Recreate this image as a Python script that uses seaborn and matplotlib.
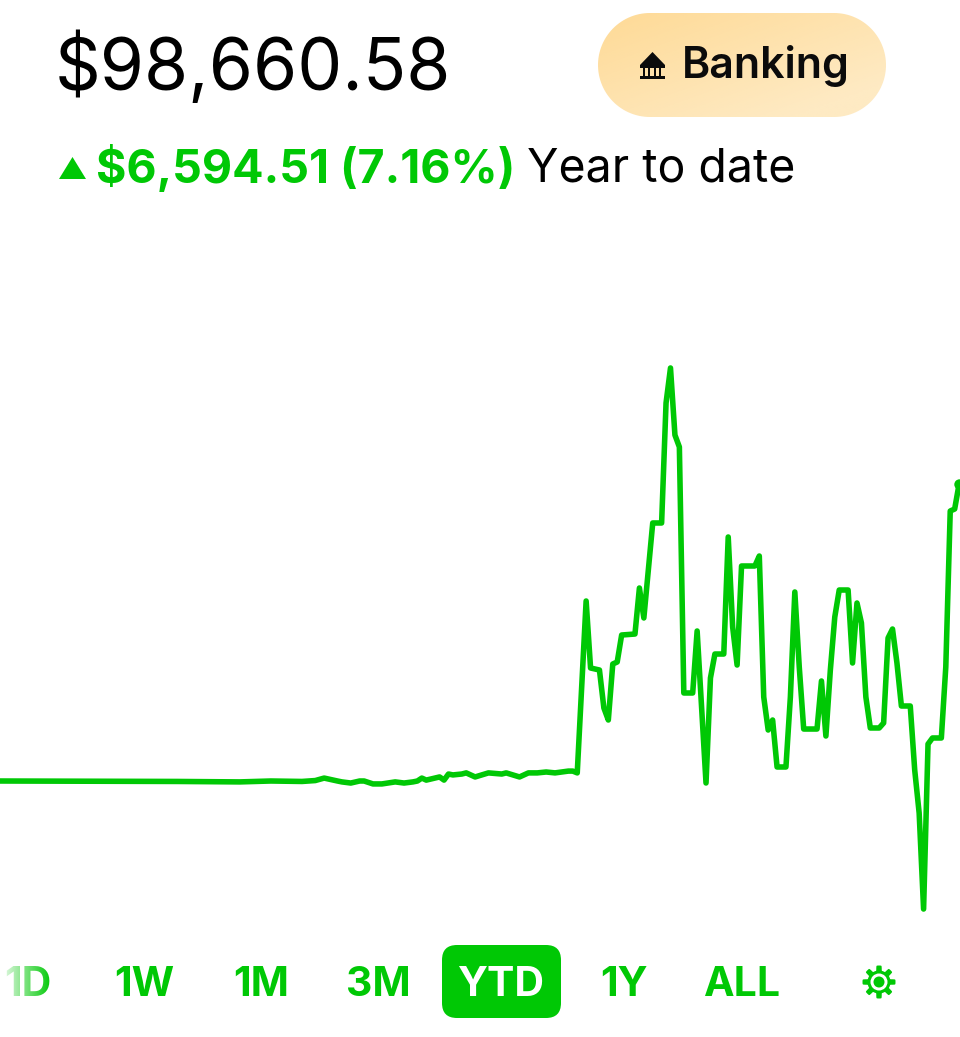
import numpy as np
import matplotlib
matplotlib.use("Agg")
import matplotlib.pyplot as plt
from matplotlib.patches import FancyBboxPatch, Polygon, Rectangle, Circle
import pandas as pd
import seaborn as sns

# Data: session index and gain since start of year (USD)
session = [0, 40, 54, 61, 68, 71, 73, 76, 77, 79, 81, 82, 84, 86, 89, 91, 93, 94, 95, 96, 99, 100,
           101, 102, 104, 105, 107, 110, 113, 114, 117, 119, 121, 123, 125, 128, 129, 130, 132, 133,
           135, 136, 137, 138, 139, 140, 143, 144, 145, 147, 149, 150, 151, 152, 153, 154, 156, 157,
           159, 160, 161, 163, 164, 165, 166, 167, 170, 171, 172, 173, 174, 175, 177, 178, 179, 180,
           181, 184, 185, 186, 187, 188, 189, 191, 192, 193, 194, 195, 196, 198, 199, 200, 201, 202,
           203, 205, 206, 207, 208, 209, 210, 212, 213, 214, 215, 216]
gain_usd = [0, -10, -20, 0, -10, 10, 65, 0, -20, -45, 0, 0, -65, -65, -20, -45, -20, 0, 65, 20, 90, 20,
            155, 135, 155, 180, 90, 180, 155, 180, 90, 180, 180, 200, 180, 220, 220, 180, 3996, 2509,
            2464, 1621, 1354, 2597, 2642, 3241, 3263, 4285, 3619, 5728, 5728, 8392, 9169, 7681, 7415, 1954, 1954, 3330,
            -44, 2287, 2819, 2819, 5417, 3419, 2575, 4773, 4773, 4995, 1865, 1132, 1354, 311, 311, 1865, 4196, 2531,
            1154, 1154, 2220, 999, 2464, 3641, 4240, 4240, 2620, 3952, 3508, 1865, 1177, 1177, 1288, 3175, 3374, 2620,
            1665, 1665, 244, -710, -2842, 821, 955, 955, 2531, 5994, 6038, 6594]

balance_label = "$98,660.58"
change_label = "$6,594.51 (7.16%)"
period_label = "Year to date"
badge_label = "Banking"
ranges = ["1D", "1W", "1M", "3M", "YTD", "1Y", "ALL"]
range_centers = [28, 144, 261, 378, 501, 624, 742]

GREEN = "#00C805"
sns.set_style("white")
plt.rcParams["font.family"] = ["Inter", "DejaVu Sans"]

W, H = 960, 1037
fig = plt.figure(figsize=(W / 100, H / 100), dpi=100, facecolor="white")

ax = fig.add_axes([0, 0, 1, 1])
df = pd.DataFrame({"session": session, "gain": gain_usd})
sns.lineplot(data=df, x="session", y="gain", color=GREEN, lw=4.0, ax=ax, estimator=None,
             solid_joinstyle="round", solid_capstyle="round")
ax.plot(session[-1], gain_usd[-1], "o", color=GREEN, ms=7.5, mew=0, clip_on=True)
ax.set_xlim(0, 216.2)
ax.set_ylim(-5683, 17338)
ax.axis("off")

ov = fig.add_axes([0, 0, 1, 1], facecolor="none")
ov.set_xlim(0, W)
ov.set_ylim(H, 0)
ov.axis("off")

ov.text(55, 90, balance_label, fontsize=51.4, color="black", va="baseline", ha="left", fontweight="normal")
ov.add_patch(Polygon([[59, 179], [86, 179], [72.5, 157]], closed=True, fc=GREEN, ec="none"))
ov.text(96, 183, change_label, fontsize=33.5, color=GREEN, va="baseline", ha="left", fontweight="bold")
ov.text(527, 182, period_label, fontsize=33.4, color="black", va="baseline", ha="left")

# Badge with soft gradient, clipped to a true stadium outline
top, bottom, left, right = 13, 117, 598, 886
r = (bottom - top) / 2
th = np.linspace(-np.pi / 2, np.pi / 2, 60)
outline = np.r_[np.c_[right - r + r * np.cos(th), (top + bottom) / 2 + r * np.sin(th)],
                np.c_[left + r - r * np.cos(th), (top + bottom) / 2 - r * np.sin(th)]]
pill = Polygon(outline, closed=True, fc="none", ec="none")
ov.add_patch(pill)
yy, xx = np.mgrid[0:1:60j, 0:1:160j]
t = (xx * 0.6 + yy * 0.6)
c0 = np.array([254, 218, 150]) / 255
c1 = np.array([254, 234, 195]) / 255
grad = c0 + (c1 - c0) * np.clip(t, 0, 1)[..., None]
im = ov.imshow(grad, extent=(left, right, bottom, top), aspect="auto", zorder=1)
im.set_clip_path(pill)
ov.set_xlim(0, W)
ov.set_ylim(H, 0)
ov.text(682, 78, badge_label, fontsize=30.9, fontweight="semibold", color="#0b0b0b", va="baseline", zorder=3)

# Bank icon
k = "#0b0b0b"
ov.add_patch(Polygon([[640, 65], [665, 65], [665, 68], [640, 68]], fc=k, ec="none", zorder=3))
ov.add_patch(Polygon([[640, 65], [652.5, 52], [665, 65]], fc=k, ec="none", zorder=3))
ov.add_patch(Rectangle((640, 76), 25, 2.5, fc=k, ec="none", zorder=3))
for bx in [643, 648, 653.5, 659]:
    ov.add_patch(Rectangle((bx, 68), 2.2, 8, fc=k, ec="none", zorder=3))

# Range selector
ov.add_patch(FancyBboxPatch((442, 945), 119, 73, boxstyle="round,pad=0,rounding_size=15", fc=GREEN, ec="none"))
for lab, cx in zip(ranges, range_centers):
    ov.text(cx, 996, lab, fontsize=29.5, fontweight="bold", ha="center", va="baseline",
            color="white" if lab == "YTD" else GREEN, zorder=3)

# Fade on the left edge
fade = np.ones((4, 100, 4))
fade[..., 3] = np.linspace(0.95, 0, 100)
ov.imshow(fade, extent=(0, 52, 1005, 955), aspect="auto", zorder=4)
ov.set_xlim(0, W)
ov.set_ylim(H, 0)

# Settings gear
gx, gy = 879, 982
ang = np.linspace(0, 2 * np.pi, 193)
rad = 14 + 2.5 * np.clip(np.cos(8 * ang) * 3, -1, 1)
ov.add_patch(Polygon(np.c_[gx + rad * np.sin(ang), gy + rad * np.cos(ang)], fc=GREEN, ec="none", zorder=3))
ov.add_patch(Circle((gx, gy), 8.5, fc="white", ec="none", zorder=3))
ov.add_patch(Circle((gx, gy), 5.5, fc=GREEN, ec="none", zorder=3))

fig.savefig("out.png", dpi=100)
